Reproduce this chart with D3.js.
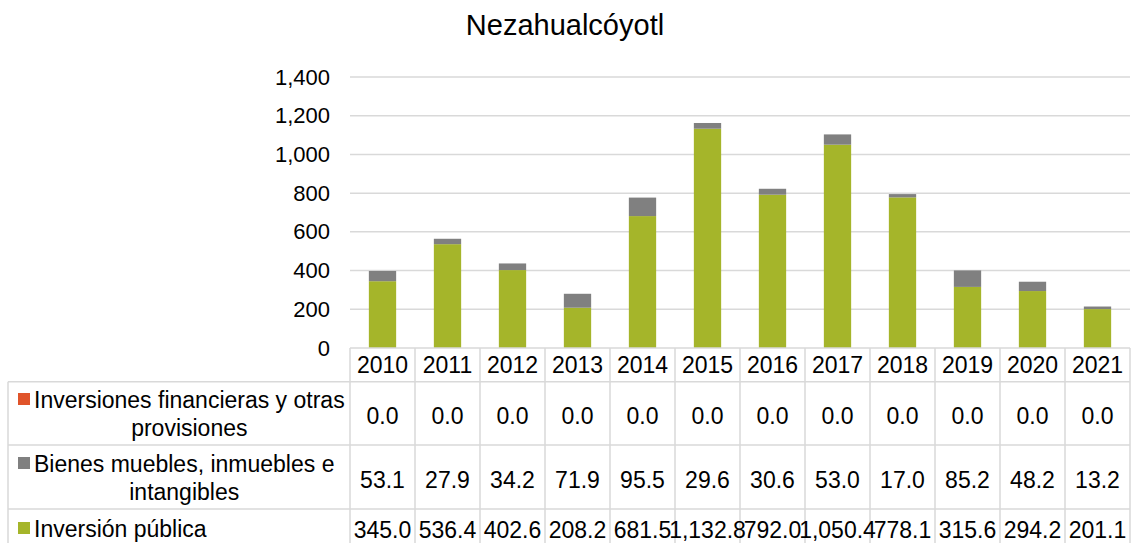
<!DOCTYPE html>
<html>
<head>
<meta charset="utf-8">
<script src="https://cdn.jsdelivr.net/npm/d3@7"></script>
<style>
  body { margin: 0; background: #fff; }
  svg text { font-family: "Liberation Sans", Arial, sans-serif; fill: #000; }
</style>
</head>
<body>
<div id="chart"></div>
<script>
// data
var years = ["2010","2011","2012","2013","2014","2015","2016","2017","2018","2019","2020","2021"];
var inversionPublica = [345.0, 536.4, 402.6, 208.2, 681.5, 1132.8, 792.0, 1050.4, 778.1, 315.6, 294.2, 201.1];
var bienesMuebles = [53.1, 27.9, 34.2, 71.9, 95.5, 29.6, 30.6, 53.0, 17.0, 85.2, 48.2, 13.2];
var inversionesFin = [0, 0, 0, 0, 0, 0, 0, 0, 0, 0, 0, 0];
var yTicks = [0, 200, 400, 600, 800, 1000, 1200, 1400];

// series, bottom to top in the stack; table rows go top to bottom in reverse
var series = [
  {key: "pub", lines: ["Inversión pública"], color: "#a5b52a", values: inversionPublica},
  {key: "bienes", lines: ["Bienes muebles, inmuebles e", "intangibles"], color: "#808080", values: bienesMuebles},
  {key: "fin", lines: ["Inversiones financieras y otras", "provisiones"], color: "#e0542a", values: inversionesFin}
];

var W = 1132, H = 543;
var plotLeft = 350, plotRight = 1130, plotTop = 77, plotBottom = 348;
var gridColor = "#d9d9d9";
var tableFont = "23px";

var svg = d3.select("#chart").append("svg")
    .attr("width", W)
    .attr("height", H);

// scales
var xCol = d3.scaleBand().domain(years).range([plotLeft, plotRight]).padding(0);
var x = d3.scaleBand().domain(years).range([plotLeft, plotRight])
    .paddingInner(0.58).paddingOuter(0.29);
var y = d3.scaleLinear().domain([0, 1400]).range([plotBottom, plotTop]);

// title
svg.append("text")
    .attr("x", 565).attr("y", 35)
    .attr("text-anchor", "middle")
    .style("font-size", "29px")
    .text("Nezahualcóyotl");

// gridlines
svg.append("g")
    .selectAll("line")
    .data(yTicks.filter(function(d) { return d > 0; }))
    .enter().append("line")
    .attr("x1", plotLeft).attr("x2", plotRight)
    .attr("y1", function(d) { return y(d); })
    .attr("y2", function(d) { return y(d); })
    .attr("stroke", gridColor)
    .attr("stroke-width", 1.5);

// y axis (labels only)
var yAxis = svg.append("g")
    .attr("transform", "translate(" + (plotLeft - 20) + ",0)")
    .call(d3.axisLeft(y).tickValues(yTicks).tickSize(0).tickPadding(0).tickFormat(d3.format(",")));
yAxis.select(".domain").remove();
yAxis.selectAll("text")
    .style("font-size", "22px")
    .style("font-family", "'Liberation Sans', Arial, sans-serif")
    .attr("fill", "#000");

// stacked bars
var rows = years.map(function(yr, i) {
  var r = {year: yr};
  series.forEach(function(s) { r[s.key] = s.values[i]; });
  return r;
});
var stack = d3.stack().keys(series.map(function(s) { return s.key; }));
var stacked = stack(rows);

svg.append("g")
    .selectAll("g")
    .data(stacked)
    .enter().append("g")
    .attr("fill", function(d, i) { return series[i].color; })
    .selectAll("rect")
    .data(function(d) { return d; })
    .enter().append("rect")
    .attr("x", function(d) { return x(d.data.year); })
    .attr("width", x.bandwidth())
    .attr("y", function(d) { return y(d[1]); })
    .attr("height", function(d) { return y(d[0]) - y(d[1]); });

// data table
var headerBottom = 381.7;
var rowTops = [381.7, 445, 509];
var tableLeft = 8;
var fmt = d3.format(",.1f");
var table = svg.append("g");

// table borders first, so overflowing numbers sit on top
var lines = [];
lines.push([plotLeft, plotBottom, plotRight, plotBottom]);
rowTops.forEach(function(t) { lines.push([tableLeft, t, plotRight, t]); });
lines.push([tableLeft, headerBottom, tableLeft, H + 5]);
years.forEach(function(yr) { lines.push([xCol(yr), plotBottom, xCol(yr), H + 5]); });
lines.push([plotRight, plotBottom, plotRight, H + 5]);

table.selectAll(".border")
    .data(lines)
    .enter().append("line")
    .attr("class", "border")
    .attr("x1", function(d) { return d[0]; })
    .attr("y1", function(d) { return d[1]; })
    .attr("x2", function(d) { return d[2]; })
    .attr("y2", function(d) { return d[3]; })
    .attr("stroke", gridColor)
    .attr("stroke-width", 1.5);

// header row with years
table.selectAll(".yr")
    .data(years)
    .enter().append("text")
    .attr("class", "yr")
    .attr("x", function(d) { return xCol(d) + xCol.bandwidth() / 2; })
    .attr("y", 373)
    .attr("text-anchor", "middle")
    .style("font-size", tableFont)
    .text(function(d) { return d; });

// table rows, top row is the last series
var tableSeries = series.slice().reverse();
var baselines = [[408, 436], [472, 500], [537]];
var valueBaselines = [424, 488, 538];

tableSeries.forEach(function(s, r) {
  var g = table.append("g");
  var first = g.append("text")
      .attr("x", 34).attr("y", baselines[r][0])
      .style("font-size", tableFont)
      .text(s.lines[0]);
  var w = first.node().getComputedTextLength();
  g.append("rect")
      .attr("x", 18).attr("y", baselines[r][0] - 15)
      .attr("width", 12).attr("height", 12)
      .attr("fill", s.color);
  if (s.lines.length > 1) {
    g.append("text")
        .attr("x", 34 + w / 2).attr("y", baselines[r][1])
        .attr("text-anchor", "middle")
        .style("font-size", tableFont)
        .text(s.lines[1]);
  }
  g.selectAll(".val")
      .data(s.values)
      .enter().append("text")
      .attr("class", "val")
      .attr("x", function(d, i) { return xCol(years[i]) + xCol.bandwidth() / 2; })
      .attr("y", valueBaselines[r])
      .attr("text-anchor", "middle")
      .style("font-size", tableFont)
      .text(function(d) { return fmt(d); });
});
</script>
</body>
</html>
